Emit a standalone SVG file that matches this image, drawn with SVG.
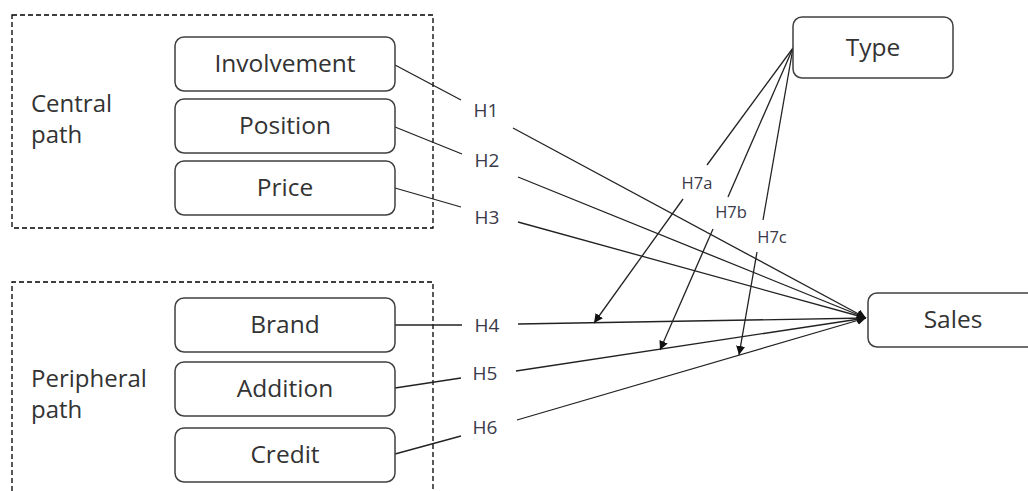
<svg xmlns="http://www.w3.org/2000/svg" width="1028" height="491" viewBox="0 0 1028 491">
<style>
.box{fill:#fff;stroke:#404040;stroke-width:1.5}
.grp{fill:none;stroke:#000;stroke-width:1.3;stroke-dasharray:5,3}
.t{font-family:"Open Sans","Noto Sans",sans-serif;font-size:24.5px;fill:#333;text-anchor:middle}
.gt{font-family:"Open Sans","Noto Sans",sans-serif;font-size:24px;fill:#333}
.h{font-family:"Open Sans","Noto Sans",sans-serif;font-size:19px;fill:#3a3a4a;text-anchor:middle}
.h7{font-family:"Open Sans","Noto Sans",sans-serif;font-size:16.5px;fill:#3a3a4a;text-anchor:middle}
.c{fill:none;stroke:#222;stroke-width:1.3}
</style>
<defs>
<marker id="arr" viewBox="0 0 10 10" refX="10" refY="5" markerWidth="9" markerHeight="9" markerUnits="userSpaceOnUse" orient="auto">
<path d="M0,0 L10,5 L0,10 z" fill="#111"/>
</marker>
</defs>
<rect width="1028" height="491" fill="#fff"/>
<g id="central-group">
<rect class="grp" x="12" y="15" width="421" height="213"/>
<text class="gt" x="31" y="112">Central</text>
<text class="gt" x="31" y="143">path</text>
</g>
<g id="peripheral-group">
<path class="grp" d="M12,491 V282 H433 V491"/>
<text class="gt" x="31" y="387">Peripheral</text>
<text class="gt" x="31" y="418">path</text>
</g>
<g id="connectors">
<path class="c" d="M395,65 L461,100"/>
<path class="c" d="M513,128 L866,318" marker-end="url(#arr)"/>
<path class="c" d="M395,127 L462,154"/>
<path class="c" d="M518,177 L866,318" marker-end="url(#arr)"/>
<path class="c" d="M395,188 L461,207"/>
<path class="c" d="M518,222 L866,318" marker-end="url(#arr)"/>
<path class="c" d="M395,325 L462,325"/>
<path class="c" d="M518,324 L866,318" marker-end="url(#arr)"/>
<path class="c" d="M395,388 L461,378"/>
<path class="c" d="M516,371 L866,318" marker-end="url(#arr)"/>
<path class="c" d="M395,454 L461,436"/>
<path class="c" d="M517,420 L866,318" marker-end="url(#arr)"/>
<path class="c" d="M793,48 L707,165"/>
<path class="c" d="M683,199 L594,323" marker-end="url(#arr)"/>
<path class="c" d="M793,48 L728,197"/>
<path class="c" d="M713,229 L660,350" marker-end="url(#arr)"/>
<path class="c" d="M793,48 L763,220"/>
<path class="c" d="M757,252 L739,355" marker-end="url(#arr)"/>
<text class="h" x="486" y="117">H1</text>
<text class="h" x="487" y="167">H2</text>
<text class="h" x="487" y="224">H3</text>
<text class="h" x="487" y="332">H4</text>
<text class="h" x="485" y="380">H5</text>
<text class="h" x="485" y="434">H6</text>
<text class="h7" x="697" y="189">H7a</text>
<text class="h7" x="731" y="218">H7b</text>
<text class="h7" x="772" y="243">H7c</text>
</g>
<g id="involvement"><rect class="box" x="175" y="37" width="220" height="54" rx="9"/><text class="t" x="285" y="72">Involvement</text></g>
<g id="position"><rect class="box" x="175" y="99" width="220" height="54" rx="9"/><text class="t" x="285" y="134">Position</text></g>
<g id="price"><rect class="box" x="175" y="161" width="220" height="54" rx="9"/><text class="t" x="285" y="196">Price</text></g>
<g id="brand"><rect class="box" x="175" y="298" width="220" height="54" rx="9"/><text class="t" x="285" y="333">Brand</text></g>
<g id="addition"><rect class="box" x="175" y="362" width="220" height="54" rx="9"/><text class="t" x="285" y="397">Addition</text></g>
<g id="credit"><rect class="box" x="175" y="428" width="220" height="54" rx="9"/><text class="t" x="285" y="463">Credit</text></g>
<g id="type"><rect class="box" x="793" y="17" width="160" height="61" rx="9"/><text class="t" x="873" y="56">Type</text></g>
<g id="sales"><rect class="box" x="868" y="293" width="170" height="54" rx="9"/><text class="t" x="953" y="328">Sales</text></g>
</svg>
